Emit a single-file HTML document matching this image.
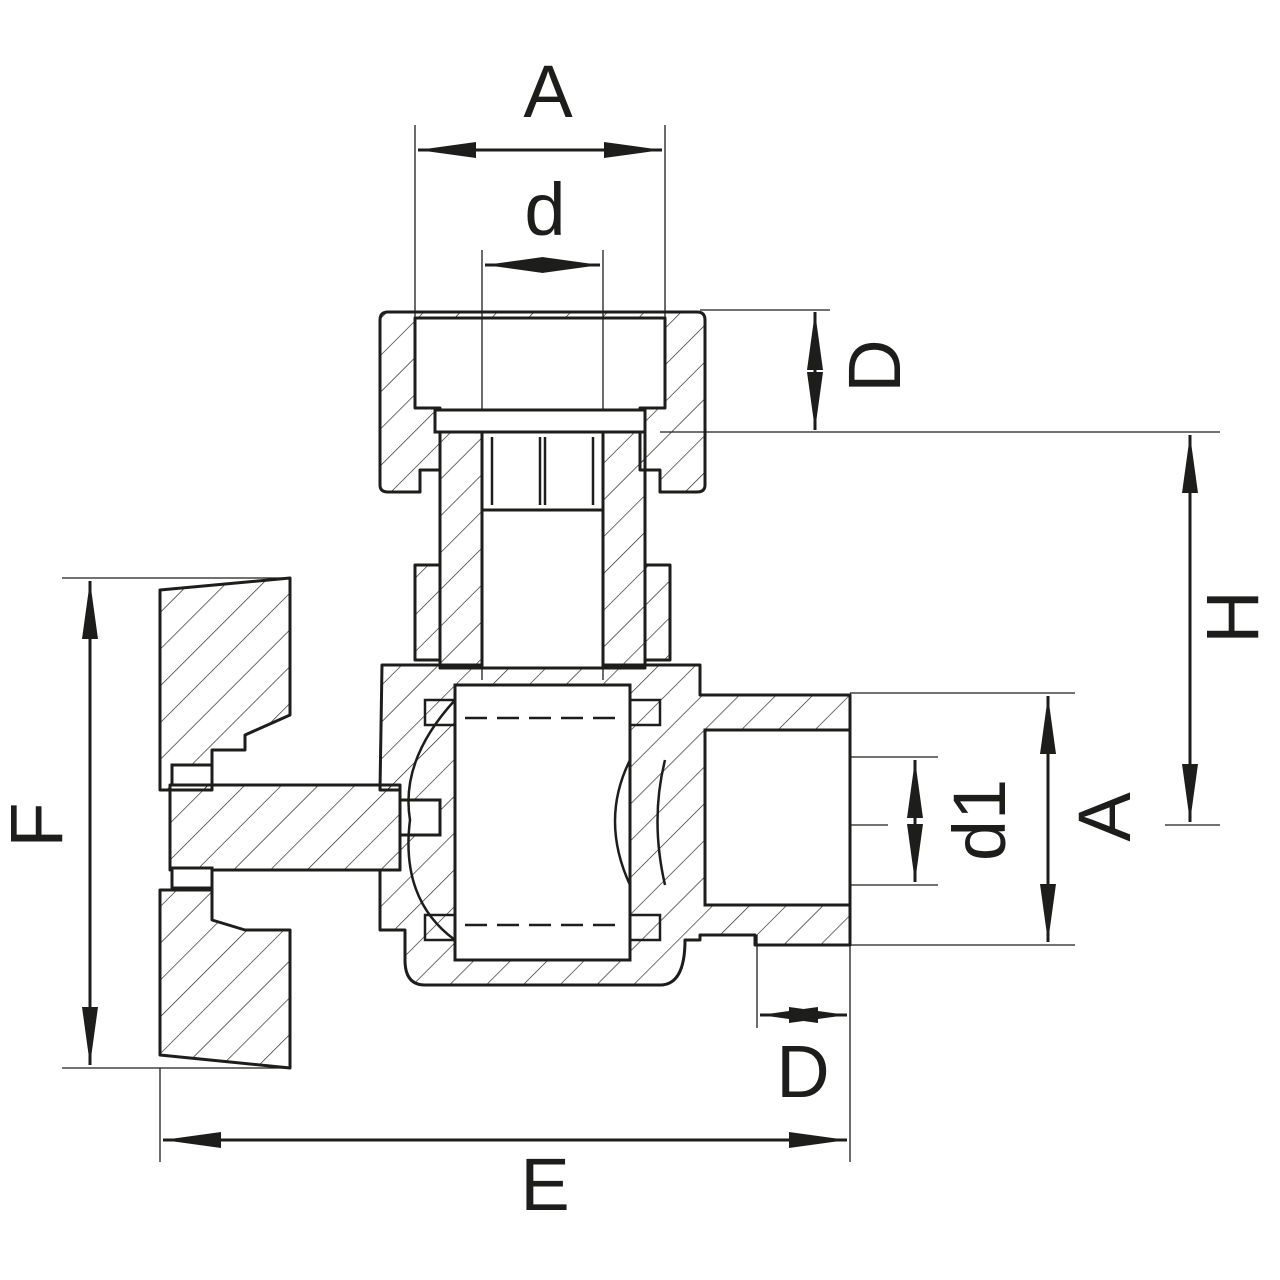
<!DOCTYPE html>
<html><head><meta charset="utf-8"><style>
html,body{margin:0;padding:0;background:#fff;}
svg{display:block}
text{font-family:"Liberation Sans",sans-serif;fill:#1d1d1b;}
</style></head><body>
<svg width="1280" height="1280" viewBox="0 0 1280 1280" xmlns="http://www.w3.org/2000/svg">
<defs>
<pattern id="h" patternUnits="userSpaceOnUse" width="26" height="26" patternTransform="rotate(45)">
<line x1="0" y1="0" x2="0" y2="26" stroke="#1d1d1b" stroke-width="1.3"/>
</pattern>
<marker id="ar" markerWidth="60" markerHeight="20" refX="58" refY="10" orient="auto-start-reverse" markerUnits="userSpaceOnUse">
<path d="M0,2 L58,10 L0,18 Z" fill="#1d1d1b"/>
</marker>
</defs>
<g stroke="#1d1d1b" fill="none" stroke-width="1.3">
<!-- extension lines -->
<line x1="415" y1="125" x2="415" y2="318"/>
<line x1="665" y1="125" x2="665" y2="318"/>
<line x1="482" y1="250" x2="482" y2="680"/>
<line x1="603" y1="250" x2="603" y2="680"/>
<line x1="700" y1="310" x2="830" y2="310"/>
<line x1="660" y1="432" x2="1220" y2="432"/>
<line x1="1165" y1="825" x2="1220" y2="825"/>
<line x1="850" y1="693" x2="1075" y2="693"/>
<line x1="850" y1="945" x2="1075" y2="945"/>
<line x1="705" y1="757" x2="938" y2="757"/>
<line x1="705" y1="885" x2="938" y2="885"/>
<line x1="795" y1="825" x2="888" y2="825"/>
<line x1="62" y1="578" x2="290" y2="578"/>
<line x1="62" y1="1068" x2="290" y2="1068"/>
<line x1="757" y1="935" x2="757" y2="1028"/>
<line x1="850" y1="935" x2="850" y2="1162"/>
<line x1="160" y1="1068" x2="160" y2="1162"/>
</g>
<g stroke="#1d1d1b" stroke-width="3" fill="none">
<line x1="418" y1="150" x2="662" y2="150" marker-start="url(#ar)" marker-end="url(#ar)"/>
<line x1="485" y1="265" x2="542" y2="265" marker-start="url(#ar)"/>
<line x1="542" y1="265" x2="600" y2="265" marker-end="url(#ar)"/>
<line x1="815" y1="312" x2="815" y2="370" marker-start="url(#ar)"/>
<line x1="815" y1="370" x2="815" y2="430" marker-end="url(#ar)"/>
<line x1="1190" y1="435" x2="1190" y2="822" marker-start="url(#ar)" marker-end="url(#ar)"/>
<line x1="1048" y1="696" x2="1048" y2="942" marker-start="url(#ar)" marker-end="url(#ar)"/>
<line x1="915" y1="760" x2="915" y2="820" marker-start="url(#ar)"/>
<line x1="915" y1="820" x2="915" y2="882" marker-end="url(#ar)"/>
<line x1="90" y1="581" x2="90" y2="1065" marker-start="url(#ar)" marker-end="url(#ar)"/>
<line x1="760" y1="1015" x2="803" y2="1015" marker-start="url(#ar)"/>
<line x1="803" y1="1015" x2="847" y2="1015" marker-end="url(#ar)"/>
<line x1="163" y1="1140" x2="847" y2="1140" marker-start="url(#ar)" marker-end="url(#ar)"/>
</g>
<!-- labels -->
<text x="548" y="117" font-size="74" text-anchor="middle">A</text>
<text x="545" y="235" font-size="74" text-anchor="middle">d</text>
<text x="545" y="1210" font-size="74" text-anchor="middle">E</text>
<text x="803" y="1097" font-size="74" text-anchor="middle">D</text>
<text transform="translate(900,366) rotate(-90)" font-size="74" text-anchor="middle">D</text>
<text transform="translate(1258,617) rotate(-90)" font-size="74" text-anchor="middle">H</text>
<text transform="translate(1130,817) rotate(-90)" font-size="74" text-anchor="middle">A</text>
<text transform="translate(1005,820) rotate(-90)" font-size="74" text-anchor="middle">d1</text>
<text transform="translate(62,825) rotate(-90)" font-size="74" text-anchor="middle">F</text>

<g stroke="#1d1d1b" stroke-width="3" fill="url(#h)" stroke-linejoin="round">
<!-- top nut -->
<path d="M388,312 H697 Q705,312 705,320 V485 Q705,492 697,492 H660 V470 H640 V408 H665 V318 H415 V408 H440 V470 H420 V492 H388 Q380,492 380,485 V320 Q380,312 388,312 Z"/>
<!-- stem -->
<path d="M440,430 H482 V668 H440 Z"/>
<path d="M603,430 H645 V668 H603 Z"/>
<path d="M415,565 H440 V660 H415 Z"/>
<path d="M645,565 H670 V660 H645 Z"/>
<!-- body -->
<path d="M382,665 H700 V695 H850 V945 H755 V935 H700 V940 H685 Q685,985 660,985 H425 Q405,985 405,960 V930 H380 V870 H400 V790 H380 Z"/>
<!-- handle -->
<path d="M160,590 L290,578 V715 L245,735 V750 H212 V790 H160 Z"/>
<path d="M160,890 H212 V920 L245,930 L290,930 V1068 L160,1055 Z"/>
<!-- spindle -->
<path d="M170,785 H400 V870 H170 Z"/>
</g>
<g stroke="#1d1d1b" stroke-width="3" fill="#fff">
<path d="M455,685 H630 V960 H455 Z"/>
<path d="M705,730 H850 V905 H705 Z"/>
<path d="M482,430 H603 V510 H482 Z"/>
<path d="M482,510 H603 V668 H482 Z"/>
<path d="M435,410 H645 V432 H435 Z"/>
<rect x="172" y="765" width="40" height="20"/>
<rect x="172" y="868" width="40" height="20"/>
<path d="M400,800 H440 V835 H400 Z"/>
</g>
<g stroke="#1d1d1b" stroke-width="2.5" fill="none">
<path d="M630,760 Q600,820 630,885"/>
<path d="M665,760 Q650,820 665,885"/>
<path d="M455,700 Q400,760 410,820 Q400,900 455,940"/>
<line x1="492" y1="437" x2="492" y2="505"/>
<line x1="540" y1="437" x2="540" y2="505"/>
<line x1="545" y1="437" x2="545" y2="505"/>
<line x1="593" y1="437" x2="593" y2="505"/>
<line x1="465" y1="718" x2="625" y2="718" stroke-dasharray="22,10"/>
<line x1="465" y1="925" x2="625" y2="925" stroke-dasharray="22,10"/>
<rect x="425" y="700" width="30" height="25"/>
<rect x="630" y="700" width="30" height="25"/>
<rect x="425" y="915" width="30" height="25"/>
<rect x="630" y="915" width="30" height="25"/>
</g>
</svg>
</body></html>
